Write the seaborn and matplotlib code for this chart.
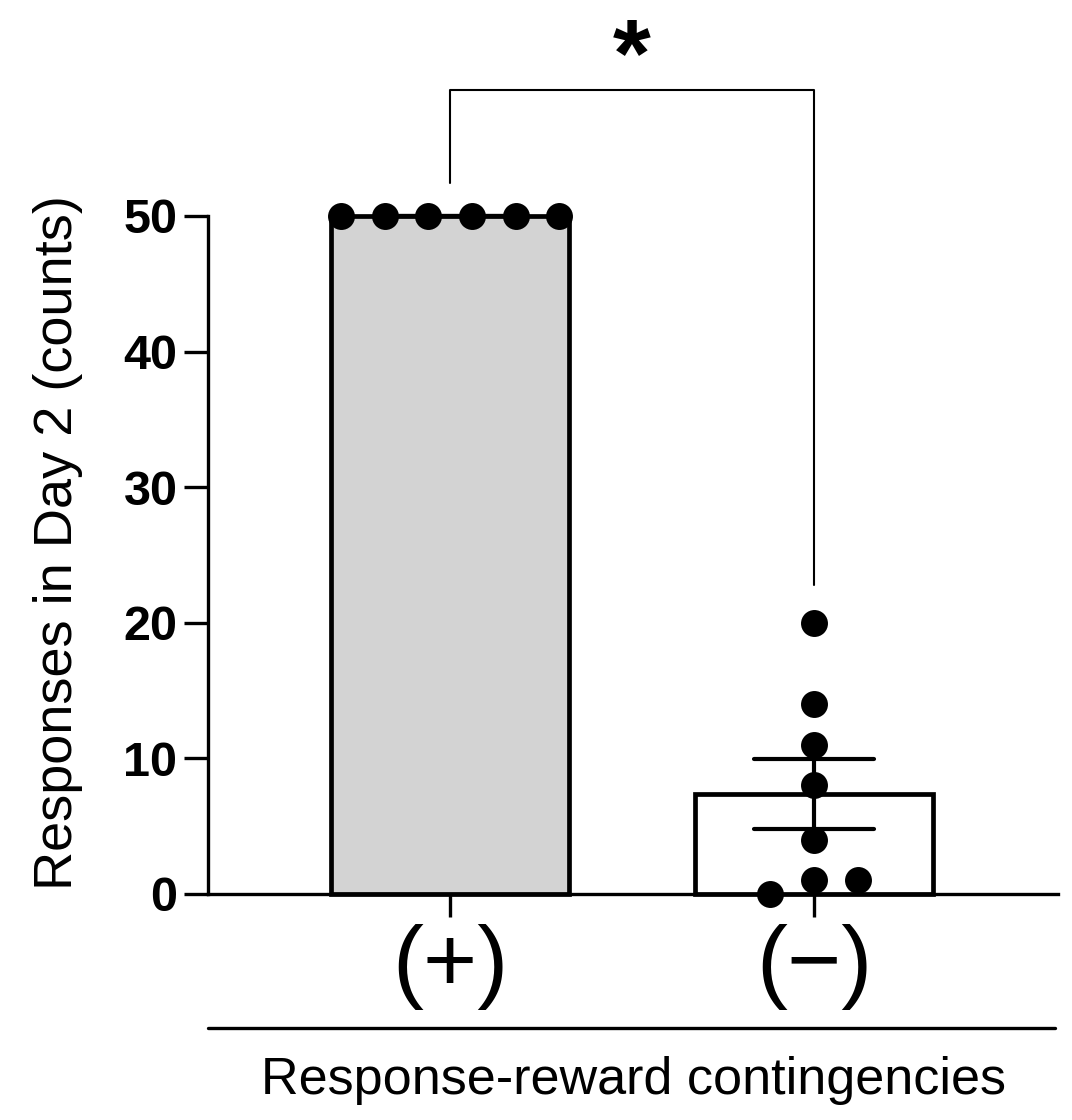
import numpy as np
import pandas as pd
import matplotlib
matplotlib.use("Agg")
import matplotlib.pyplot as plt
import seaborn as sns

# --- values ---
groups = ["(+)", "(\u2212)"]
plus_counts = [50, 50, 50, 50, 50, 50]
minus_counts = [0, 1, 1, 4, 8, 11, 14, 20]
bar_colors = ["#d3d3d3", "#ffffff"]
yticks = [0, 10, 20, 30, 40, 50]
sig_label = "*"

df = pd.DataFrame({
    "group": [groups[0]] * len(plus_counts) + [groups[1]] * len(minus_counts),
    "count": plus_counts + minus_counts,
})


def spread_offsets(values, step=0.12, gap=2.5):
    """Spread overlapping dots sideways, symmetric around the category centre."""
    vals = np.asarray(values, dtype=float)
    order = np.argsort(vals, kind="stable")
    offsets = np.zeros(len(vals))
    clusters = [[order[0]]]
    for prev, idx in zip(order[:-1], order[1:]):
        if vals[idx] - vals[prev] < gap:
            clusters[-1].append(idx)
        else:
            clusters.append([idx])
    for cl in clusters:
        n = len(cl)
        offsets[cl] = (np.arange(n) - (n - 1) / 2) * step
    return offsets


df["x"] = df["group"].map({g: i for i, g in enumerate(groups)}).astype(float)
for g in groups:
    mask = df["group"] == g
    df.loc[mask, "x"] += spread_offsets(df.loc[mask, "count"].values)

# --- style ---
sns.set_style("ticks")
plt.rcParams["font.family"] = ["Liberation Sans", "DejaVu Sans"]
plt.rcParams.update({"text.color": "black", "axes.labelcolor": "black",
                     "xtick.color": "black", "ytick.color": "black",
                     "axes.edgecolor": "black"})

fig = plt.figure(figsize=(10.72, 11.2), dpi=100)
ax = fig.add_axes([0.194, 0.2018, 0.793, 0.6054])

# bars with mean +/- SEM
sns.barplot(data=df, x="group", y="count", hue="group", order=groups,
            hue_order=groups, palette=bar_colors, legend=False, width=0.654,
            errorbar="se", capsize=0.33, edgecolor="black", linewidth=3.4,
            err_kws={"color": "black", "linewidth": 3.0}, ax=ax)

# individual animals
sns.scatterplot(data=df, x="x", y="count", color="black", s=19.4 ** 2,
                linewidth=0, ax=ax, zorder=5, legend=False)

ax.set_xlim(-0.665, 1.67)
ax.set_ylim(0, 50)
ax.set_yticks(yticks)
ax.set_xticks(range(len(groups)))
ax.set_xticklabels(groups)

# significance bracket
ax.plot([0, 0, 1, 1], [52.4, 59.3, 59.3, 22.8], color="black", lw=1.5,
        clip_on=False)
ax.text(0.5, 59.6, sig_label, ha="center", va="baseline", fontsize=70,
        fontweight="bold")

# axes styling
sns.despine(ax=ax)
for side in ["left", "bottom"]:
    ax.spines[side].set_linewidth(2.4)
ax.tick_params(axis="y", length=17, width=2.4, pad=5, labelsize=35)
ax.tick_params(axis="x", length=16.5, width=2.4, pad=5, labelsize=67)
for lab in ax.get_yticklabels():
    lab.set_fontweight("bold")
ax.set_ylabel("Responses in Day 2 (counts)", fontsize=39, labelpad=29)
ax.yaxis.label.set_y(0.519)
ax.set_xlabel("Response-reward contingencies", fontsize=37.5, labelpad=33)

# rule between tick labels and axis title
ax.plot([0, 0.996], [-0.1976, -0.1976], transform=ax.transAxes, color="black",
        lw=2.4, clip_on=False)

for art in ax.patches + ax.lines + ax.collections:
    art.set_clip_on(False)

fig.savefig("out.png", dpi=100)
